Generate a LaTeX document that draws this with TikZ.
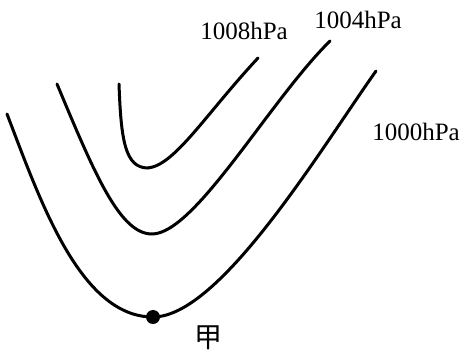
\documentclass[tikz,border=0pt]{standalone}
\usepackage{fontspec}
\setmainfont{Liberation Serif}
\newfontfamily\cjk{Noto Sans CJK SC}
\begin{document}
\begin{tikzpicture}[x=1pt,y=-1pt,
  isobar/.style={line width=3pt,line cap=round},
  lbl/.style={font=\fontsize{25}{27}\selectfont,inner sep=0pt}]
\useasboundingbox (0,0) rectangle (460,358);
% 1008 hPa
\coordinate (a0) at (119,84);
\coordinate (a1) at (148,168);
\coordinate (a2) at (258,58);
\draw[isobar] (a0) .. controls (121,140) and (125,168) .. (a1)
  .. controls (175,165) and (205,115) .. (a2);
% 1004 hPa
\coordinate (b0) at (57,84);
\coordinate (b1) at (152,234);
\coordinate (b2) at (330,41);
\draw[isobar] (b0) .. controls (95,175) and (120,234) .. (b1)
  .. controls (195,234) and (270,100) .. (b2);
% 1000 hPa
\coordinate (c0) at (7,114);
\coordinate (c2) at (376,71);
\node[circle,fill,inner sep=0pt,minimum size=14pt] (dot) at (153,317) {};
\draw[isobar] (c0) .. controls (40,200) and (80,317) .. (dot.center)
  .. controls (220,317) and (320,150) .. (c2);
% labels
\node[lbl] (l1008) at (244,31) {1008hPa};
\node[lbl] (l1004) at (358,20) {1004hPa};
\node[lbl] (l1000) at (416,132) {1000hPa};
\node[inner sep=0pt,font=\cjk\fontsize{28}{28}\selectfont] (jia) at (208,338) {甲};
\end{tikzpicture}
\end{document}
